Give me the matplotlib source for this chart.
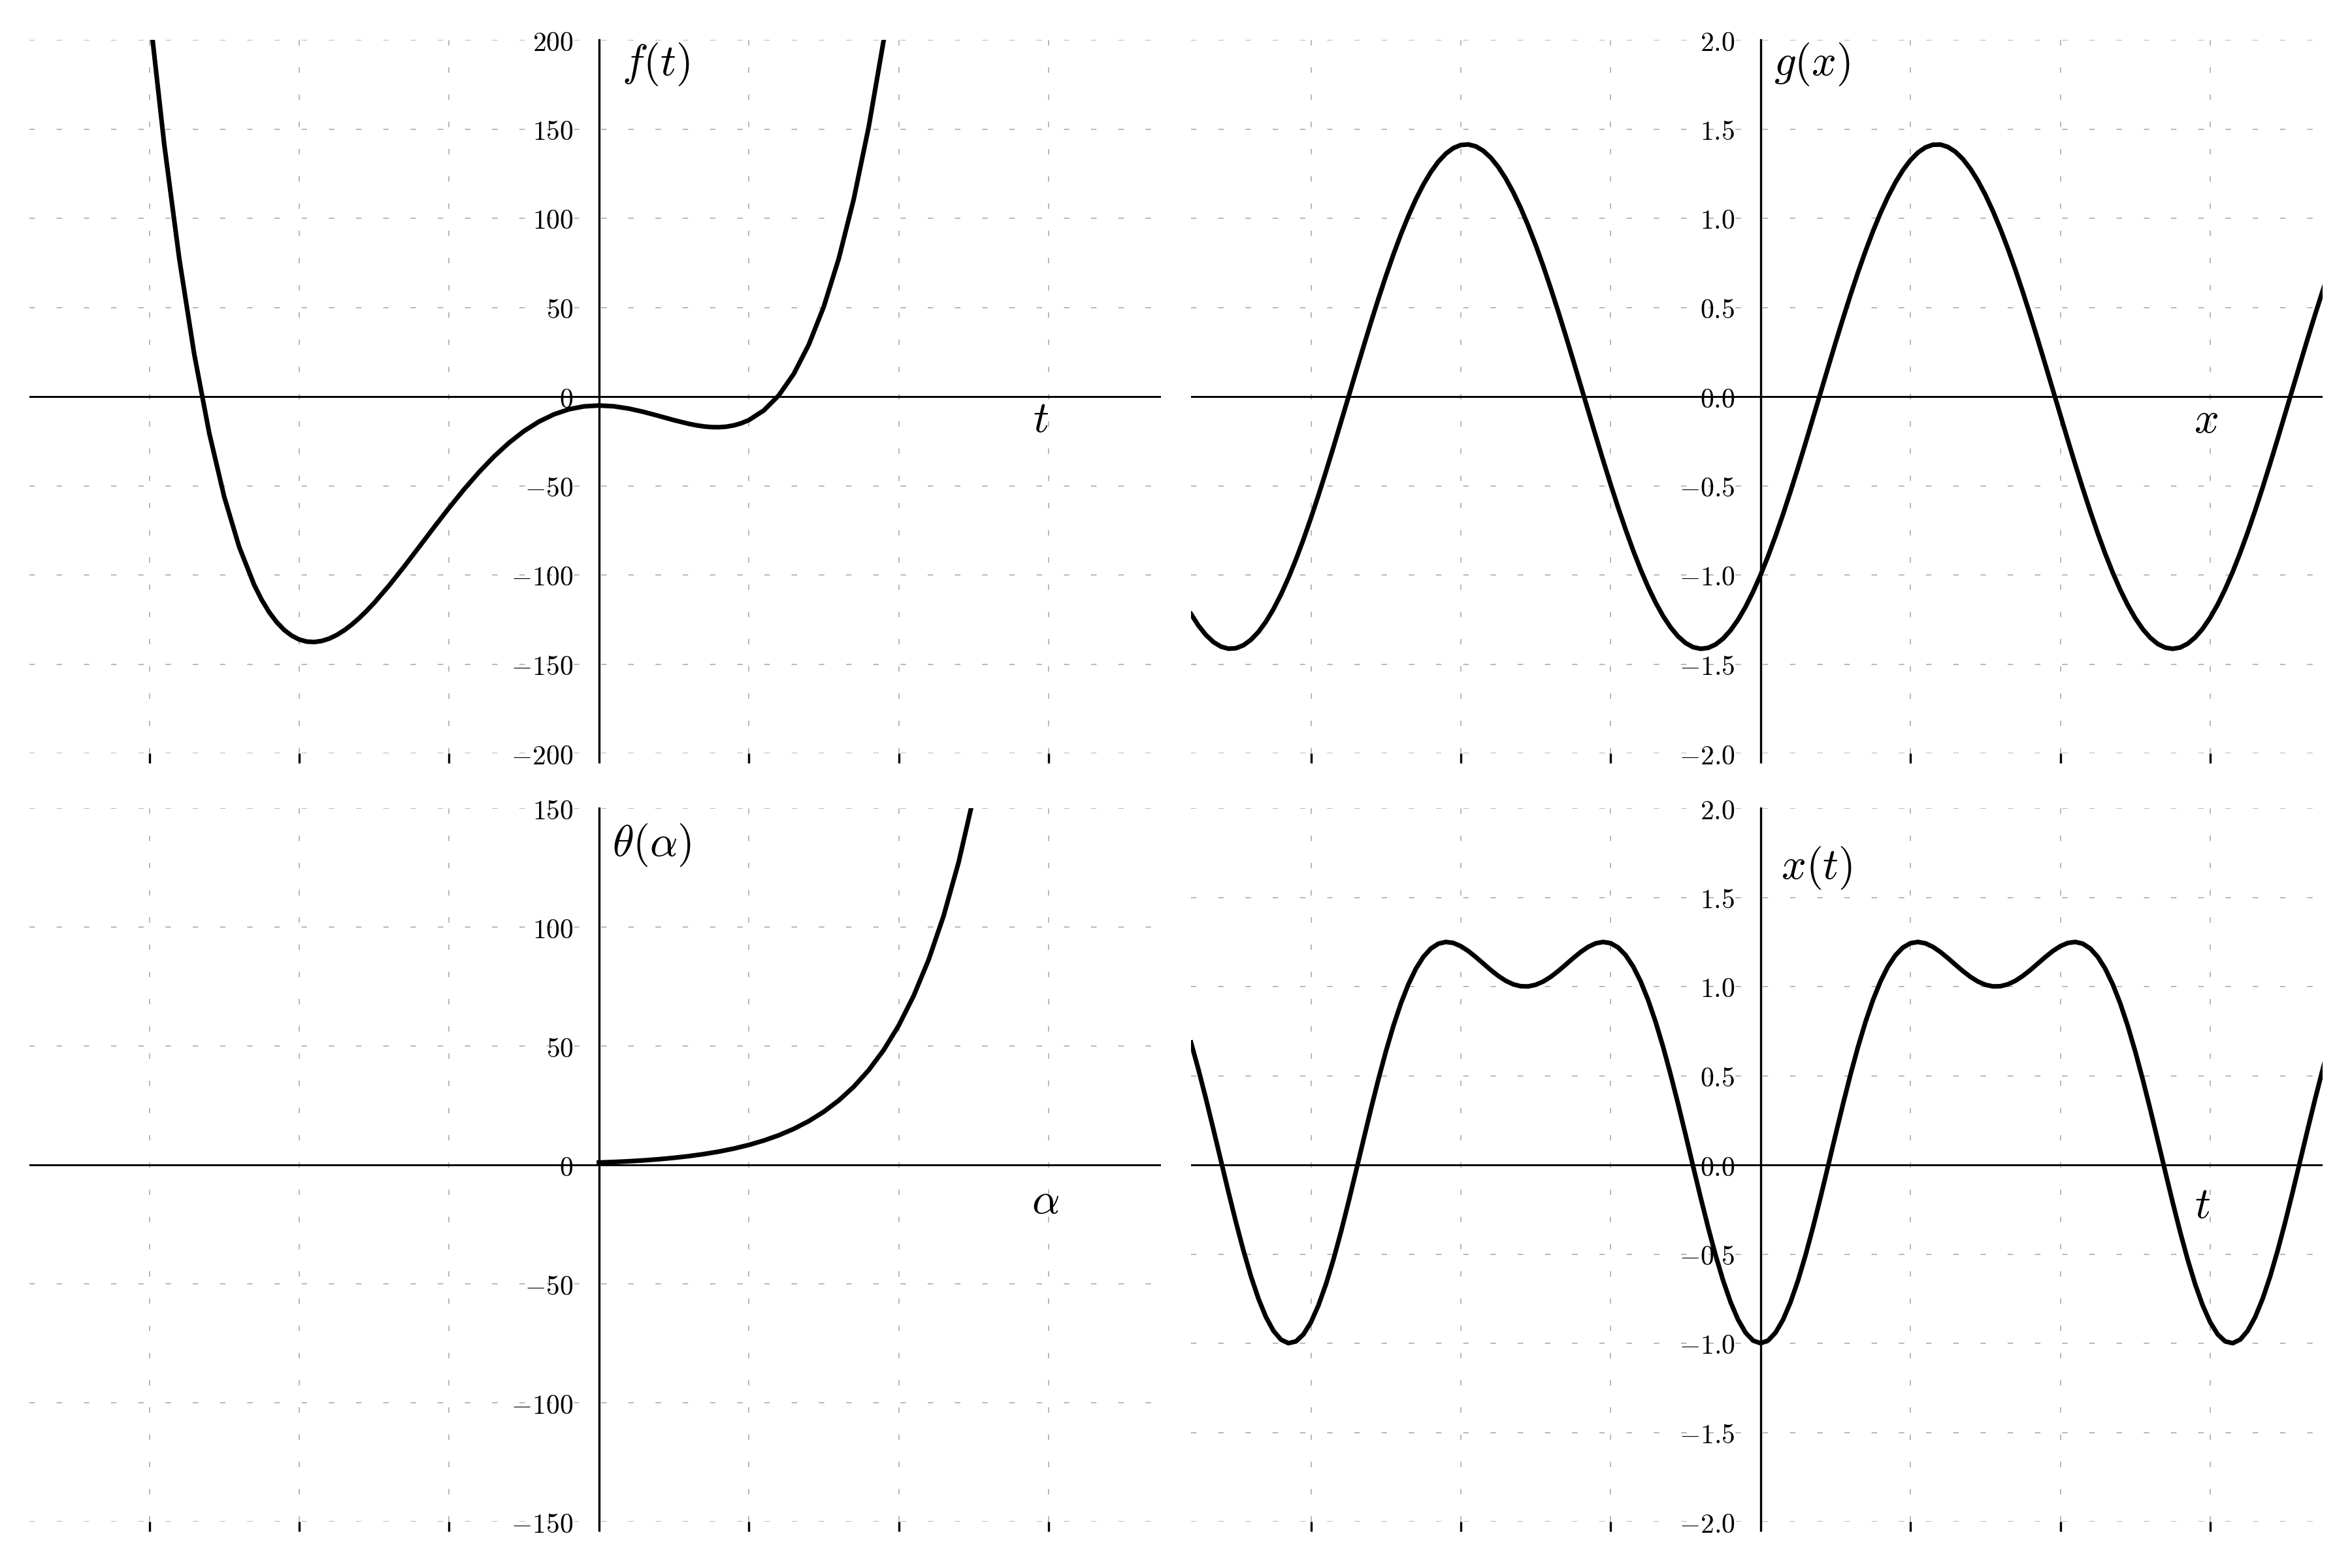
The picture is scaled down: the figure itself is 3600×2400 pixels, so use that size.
import numpy as np
import matplotlib
matplotlib.use("Agg")
import matplotlib.pyplot as plt

plt.rcParams["mathtext.fontset"] = "cm"
plt.rcParams["lines.scale_dashes"] = False

# ---------------- data ----------------
# f(t), top-left
t_f = [-3.1, -3.0, -2.9, -2.8, -2.7, -2.6, -2.5, -2.4, -2.3, -2.25, -2.2, -2.15,
       -2.1, -2.05, -2.0, -1.95, -1.9, -1.85, -1.8, -1.75, -1.7, -1.65, -1.6,
       -1.55, -1.5, -1.4, -1.3, -1.2, -1.1, -1.0, -0.9, -0.8, -0.7, -0.6, -0.5,
       -0.4, -0.3, -0.2, -0.1, 0.0, 0.1, 0.2, 0.3, 0.4, 0.5, 0.6, 0.65, 0.7,
       0.75, 0.8, 0.85, 0.9, 0.95, 1.0, 1.1, 1.2, 1.3, 1.4, 1.5, 1.6, 1.7, 1.8,
       1.9, 2.0]
f_vals = [303.90, 216.40, 141.20, 77.29, 23.70, -20.52, -56.25, -84.36, -105.63,
          -113.97, -120.89, -126.48, -130.84, -134.06, -136.20, -137.36, -137.62,
          -137.04, -135.72, -133.70, -131.08, -127.90, -124.23, -120.15, -115.70,
          -105.93, -95.35, -84.35, -73.25, -62.40, -52.03, -42.37, -33.61, -25.90,
          -19.35, -14.03, -9.96, -7.13, -5.51, -5.00, -5.46, -6.74, -8.63, -10.87,
          -13.20, -15.28, -16.10, -16.74, -17.11, -17.18, -16.88, -16.15, -14.95,
          -13.20, -7.78, 0.67, 12.74, 29.08, 50.35, 77.29, 110.64, 151.22, 199.85,
          257.40]

# shared sample positions for g(x) and x(t)
x_grid = [-3.80, -3.75, -3.70, -3.65, -3.60, -3.55, -3.50, -3.45, -3.40, -3.35,
          -3.30, -3.25, -3.20, -3.15, -3.10, -3.05, -3.00, -2.95, -2.90, -2.85,
          -2.80, -2.75, -2.70, -2.65, -2.60, -2.55, -2.50, -2.45, -2.40, -2.35,
          -2.30, -2.25, -2.20, -2.15, -2.10, -2.05, -2.00, -1.95, -1.90, -1.85,
          -1.80, -1.75, -1.70, -1.65, -1.60, -1.55, -1.50, -1.45, -1.40, -1.35,
          -1.30, -1.25, -1.20, -1.15, -1.10, -1.05, -1.00, -0.95, -0.90, -0.85,
          -0.80, -0.75, -0.70, -0.65, -0.60, -0.55, -0.50, -0.45, -0.40, -0.35,
          -0.30, -0.25, -0.20, -0.15, -0.10, -0.05, 0.00, 0.05, 0.10, 0.15, 0.20,
          0.25, 0.30, 0.35, 0.40, 0.45, 0.50, 0.55, 0.60, 0.65, 0.70, 0.75, 0.80,
          0.85, 0.90, 0.95, 1.00, 1.05, 1.10, 1.15, 1.20, 1.25, 1.30, 1.35, 1.40,
          1.45, 1.50, 1.55, 1.60, 1.65, 1.70, 1.75, 1.80, 1.85, 1.90, 1.95, 2.00,
          2.05, 2.10, 2.15, 2.20, 2.25, 2.30, 2.35, 2.40, 2.45, 2.50, 2.55, 2.60,
          2.65, 2.70, 2.75, 2.80, 2.85, 2.90, 2.95, 3.00, 3.05, 3.10, 3.15, 3.20,
          3.25, 3.30, 3.35, 3.40, 3.45, 3.50, 3.55, 3.60, 3.65, 3.70, 3.75, 3.80]

# g(x), top-right
g_vals = [-1.2192, -1.2846, -1.3372, -1.3765, -1.4021, -1.4135, -1.4109, -1.3941,
          -1.3635, -1.3192, -1.2617, -1.1917, -1.1097, -1.0167, -0.9134, -0.8011,
          -0.6808, -0.5536, -0.4209, -0.2840, -0.1443, -0.0032, 0.1381, 0.2779,
          0.4150, 0.5478, 0.6752, 0.7960, 0.9087, 1.0123, 1.1059, 1.1883, 1.2589,
          1.3170, 1.3619, 1.3931, 1.4104, 1.4137, 1.4029, 1.3779, 1.3393, 1.2873,
          1.2223, 1.1452, 1.0567, 0.9575, 0.8489, 0.7318, 0.6072, 0.4767, 0.3414,
          0.2026, 0.0619, -0.0794, -0.2200, -0.3584, -0.4932, -0.6230, -0.7466,
          -0.8629, -0.9704, -1.0682, -1.1554, -1.2311, -1.2944, -1.3448, -1.3818,
          -1.4049, -1.4141, -1.4090, -1.3899, -1.3570, -1.3105, -1.2508, -1.1788,
          -1.0948, -1.0000, -0.8952, -0.7814, -0.6598, -0.5317, -0.3982, -0.2607,
          -0.1206, 0.0207, 0.1617, 0.3012, 0.4376, 0.5696, 0.6961, 0.8154, 0.9268,
          1.0288, 1.1205, 1.2010, 1.2696, 1.3254, 1.3680, 1.3970, 1.4120, 1.4129,
          1.3996, 1.3724, 1.3315, 1.2772, 1.2102, 1.1311, 1.0407, 0.9399, 0.8298,
          0.7113, 0.5857, 0.4543, 0.3183, 0.1791, 0.0381, -0.1032, -0.2435, -0.3813,
          -0.5154, -0.6443, -0.7667, -0.8815, -0.9875, -1.0837, -1.1690, -1.2426,
          -1.3038, -1.3520, -1.3867, -1.4075, -1.4142, -1.4069, -1.3854, -1.3501,
          -1.3014, -1.2396, -1.1655, -1.0796, -0.9831, -0.8767, -0.7615, -0.6387,
          -0.5096, -0.3753, -0.2373, -0.0969, 0.0445, 0.1853, 0.3243, 0.4602,
          0.5914, 0.7166]

# x(t), bottom-right
xt_vals = [0.6855, 0.5332, 0.3692, 0.1971, 0.0216, -0.1531, -0.3223, -0.4811,
           -0.6253, -0.7505, -0.8532, -0.9303, -0.9796, -0.9996, -0.9896, -0.9501,
           -0.8821, -0.7877, -0.6696, -0.5314, -0.3771, -0.2110, -0.0375, 0.1383,
           0.3121, 0.4791, 0.6358, 0.7788, 0.9049, 1.0122, 1.0996, 1.1663, 1.2128,
           1.2402, 1.2500, 1.2444, 1.2263, 1.1990, 1.1654, 1.1288, 1.0926, 1.0596,
           1.0321, 1.0124, 1.0017, 1.0008, 1.0099, 1.0282, 1.0544, 1.0868, 1.1226,
           1.1593, 1.1937, 1.2224, 1.2422, 1.2499, 1.2429, 1.2188, 1.1755, 1.1123,
           1.0284, 0.9243, 0.8010, 0.6610, 0.5062, 0.3406, 0.1678, -0.0080, -0.1820,
           -0.3498, -0.5065, -0.6478, -0.7695, -0.8680, -0.9406, -0.9850, -1.0000,
           -0.9850, -0.9406, -0.8680, -0.7695, -0.6478, -0.5065, -0.3498, -0.1820,
           -0.0080, 0.1678, 0.3406, 0.5062, 0.6610, 0.8010, 0.9243, 1.0284, 1.1123,
           1.1755, 1.2188, 1.2429, 1.2499, 1.2422, 1.2224, 1.1937, 1.1593, 1.1226,
           1.0868, 1.0544, 1.0282, 1.0099, 1.0008, 1.0017, 1.0124, 1.0321, 1.0596,
           1.0926, 1.1288, 1.1654, 1.1990, 1.2263, 1.2444, 1.2500, 1.2402, 1.2128,
           1.1663, 1.0996, 1.0122, 0.9049, 0.7788, 0.6358, 0.4791, 0.3121, 0.1383,
           -0.0375, -0.2110, -0.3771, -0.5314, -0.6696, -0.7877, -0.8821, -0.9501,
           -0.9896, -0.9996, -0.9796, -0.9303, -0.8532, -0.7505, -0.6253, -0.4811,
           -0.3223, -0.1531, 0.0216, 0.1971, 0.3692, 0.5332, 0.6855]

# theta(alpha), bottom-left
alpha_vals = [0.0, 0.1, 0.2, 0.3, 0.4, 0.5, 0.6, 0.7, 0.8, 0.9, 1.0, 1.1, 1.2, 1.3,
              1.4, 1.5, 1.6, 1.7, 1.8, 1.9, 2.0, 2.1, 2.2, 2.3, 2.4, 2.5, 2.6]
theta_vals = [1.0, 1.23, 1.53, 1.91, 2.39, 2.97, 3.68, 4.55, 5.59, 6.86, 8.39,
              10.24, 12.46, 15.15, 18.40, 22.34, 27.09, 32.85, 39.84, 48.31, 58.60,
              71.10, 86.29, 104.77, 127.27, 154.66, 188.03]

# ticks
x_ticks = [-3, -2, -1, 0, 1, 2, 3]
f_yticks = [-200, -150, -100, -50, 0, 50, 100, 150, 200]
f_ylabels = [r"$-200$", r"$-150$", r"$-100$", r"$-50$", r"$0$", r"$50$",
             r"$100$", r"$150$", r"$200$"]
th_yticks = [-150, -100, -50, 0, 50, 100, 150]
th_ylabels = [r"$-150$", r"$-100$", r"$-50$", r"$0$", r"$50$", r"$100$", r"$150$"]
unit_yticks = [-2.0, -1.5, -1.0, -0.5, 0.0, 0.5, 1.0, 1.5, 2.0]
unit_ylabels = [r"$-2.0$", r"$-1.5$", r"$-1.0$", r"$-0.5$", r"$0.0$", r"$0.5$",
                r"$1.0$", r"$1.5$", r"$2.0$"]

# ---------------- figure ----------------
W, H = 3600, 2400
fig = plt.figure(figsize=(12, 8), dpi=300)


def rect(left, top, w, h):
    return [left / W, 1 - (top + h) / H, w / W, h / H]


ax_tl = fig.add_axes(rect(45, 61, 1732, 1092))
ax_tr = fig.add_axes(rect(1823, 61, 1732, 1092))
ax_bl = fig.add_axes(rect(45, 1237, 1732, 1092))
ax_br = fig.add_axes(rect(1823, 1237, 1732, 1092))


def style(ax, ylim, yticks, ylabels):
    ax.set_xlim(-3.8, 3.75)
    ax.set_ylim(*ylim)
    ax.set_xticks(x_ticks)
    ax.set_xticklabels([])
    ax.set_yticks(yticks)
    ax.set_yticklabels(ylabels)
    for s in ["top", "right", "bottom"]:
        ax.spines[s].set_visible(False)
    ax.spines["left"].set_position(("data", 0))
    ax.spines["left"].set_linewidth(0.8)
    ax.axhline(0, color="black", lw=0.7, zorder=2)
    ax.grid(True, color="#b5b5b5", lw=0.45, linestyle=(0, (2, 8)))
    ax.tick_params(axis="y", length=0, pad=9.4, labelsize=10)
    ax.tick_params(axis="x", length=3.5, width=0.8, direction="out")
    ax.patch.set_alpha(0)


style(ax_tl, (-200, 200), f_yticks, f_ylabels)
style(ax_tr, (-2, 2), unit_yticks, unit_ylabels)
style(ax_bl, (-150, 150), th_yticks, th_ylabels)
style(ax_br, (-2, 2), unit_yticks, unit_ylabels)

LW = 1.7
ax_tl.plot(t_f, f_vals, color="black", lw=LW, zorder=3)
ax_tr.plot(x_grid, g_vals, color="black", lw=LW, zorder=3)
ax_bl.plot(alpha_vals, theta_vals, color="black", lw=LW, zorder=3)
ax_br.plot(x_grid, xt_vals, color="black", lw=LW, zorder=3)

# function labels
ax_tl.text(0.5537, 0.966, r"$f(t)$", transform=ax_tl.transAxes, ha="center",
           va="center", fontsize=16)
ax_tr.text(0.549, 0.966, r"$g(x)$", transform=ax_tr.transAxes, ha="center",
           va="center", fontsize=16)
ax_bl.text(0.550, 0.948, r"$\theta(\alpha)$", transform=ax_bl.transAxes,
           ha="center", va="center", fontsize=16)
ax_br.text(0.5528, 0.916, r"$x(t)$", transform=ax_br.transAxes, ha="center",
           va="center", fontsize=16)

# variable labels
ax_tl.text(2.948, -19.8, r"$t$", ha="center", va="baseline", fontsize=16)
ax_tr.text(2.974, -0.2, r"$x$", ha="center", va="baseline", fontsize=16)
ax_bl.text(2.98, -20.3, r"$\alpha$", ha="center", va="baseline", fontsize=16)
ax_br.text(2.948, -0.297, r"$t$", ha="center", va="baseline", fontsize=16)

fig.savefig("out.png", dpi=300, facecolor="white")
